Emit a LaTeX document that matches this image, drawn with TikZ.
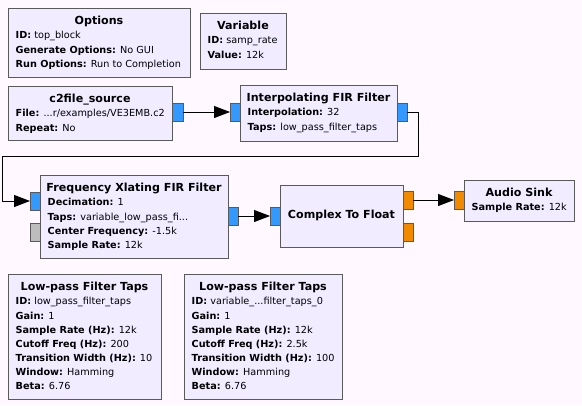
\documentclass[tikz,border=0pt]{standalone}
\usepackage{fontspec}
\setmainfont{DejaVu Sans}
\usetikzlibrary{arrows.meta,fit}
\definecolor{bg}{HTML}{FFF9FF}
\definecolor{blockfill}{HTML}{F1ECFF}
\definecolor{bordercol}{HTML}{5A5A5A}
\definecolor{cplx}{HTML}{3399FF}
\definecolor{flt}{HTML}{F28A00}
\definecolor{msg}{HTML}{BDBDBD}
\newcommand\grcfont{\fontsize{9.7}{12}\selectfont}
\newcommand\grctitlefont{\fontsize{11.1}{13}\selectfont\bfseries}
\newcommand\kv[2]{\textbf{#1} #2}
\newcommand\grcblock[7]{%
  \node[blockbox, fit={(#2,#3) (#4,#5)}] (#1) {};
  \node[blocktitle] (#1-t) at ({(#2+#4)/2},{#3+16.7}) {#6};
  \foreach \txt [count=\i] in {#7} {\node[param] (#1-\i) at ({#2+7.5},{#3+16.7+14.15*\i}) {\txt};}
}
\newcommand\grcport[6]{\node[port, fill=#6, fit={(#2,#3) (#4,#5)}] (#1) {};}
\tikzset{
  blockbox/.style={draw=bordercol, fill=blockfill, line width=1pt, inner sep=0pt, outer sep=0pt},
  port/.style={draw=bordercol, line width=1pt, inner sep=0pt, outer sep=0pt},
  blocktitle/.style={font=\grctitlefont, anchor=base, inner sep=0pt},
  param/.style={font=\grcfont, anchor=base west, inner sep=0pt},
  wire/.style={line width=1pt, -{Triangle[length=16pt,width=12pt]}}
}
\begin{document}
\begin{tikzpicture}[x=1pt,y=-1pt]
\fill[bg] (0,0) rectangle (582,405);
\useasboundingbox (0,0) rectangle (582,405);

\grcblock{opt}{8}{8}{190}{77}{Options}{\kv{ID:}{top\_block},\kv{Generate Options:}{No GUI},\kv{Run Options:}{Run to Completion}}
\grcblock{var}{200}{13}{286}{69}{Variable}{\kv{ID:}{samp\_rate},\kv{Value:}{12k}}
\grcblock{src}{8}{86}{172}{140}{c2file\_source}{\kv{File:}{...r/examples/VE3EMB.c2},\kv{Repeat:}{No}}
\grcblock{interp}{240}{85}{397}{141}{Interpolating FIR Filter}{\kv{Interpolation:}{32},\kv{Taps:}{low\_pass\_filter\_taps}}
\grcblock{xlat}{40}{175}{228}{258}{Frequency Xlating FIR Filter}{\kv{Decimation:}{1},\kv{Taps:}{variable\_low\_pass\_fi...},\kv{Center Frequency:}{-1.5k},\kv{Sample Rate:}{12k}}
\node[blockbox, fit={(280,185) (403,247)}] (c2f) {};
\node[blocktitle] (c2f-t) at (341.5,218.7) {Complex To Float};
\grcblock{sink}{464}{180}{574}{221}{Audio Sink}{\kv{Sample Rate:}{12k}}
\grcblock{lpfa}{8}{274}{161}{399}{Low-pass Filter Taps}{\kv{ID:}{low\_pass\_filter\_taps},\kv{Gain:}{1},\kv{Sample Rate (Hz):}{12k},\kv{Cutoff Freq (Hz):}{200},\kv{Transition Width (Hz):}{10},\kv{Window:}{Hamming},\kv{Beta:}{6.76}}
\grcblock{lpfb}{184}{274}{342}{399}{Low-pass Filter Taps}{\kv{ID:}{variable\_...filter\_taps\_0},\kv{Gain:}{1},\kv{Sample Rate (Hz):}{12k},\kv{Cutoff Freq (Hz):}{2.5k},\kv{Transition Width (Hz):}{100},\kv{Window:}{Hamming},\kv{Beta:}{6.76}}

\grcport{srcout}{172}{103}{183}{121}{cplx}
\grcport{interpin}{230}{103}{240}{121}{cplx}
\grcport{interpout}{397}{103}{407}{121}{cplx}
\grcport{xlatin}{30}{192}{40}{210}{cplx}
\grcport{xlatmsg}{30}{223}{40}{241}{msg}
\grcport{xlatout}{228}{207}{238}{225}{cplx}
\grcport{c2fin}{270}{207}{280}{225}{cplx}
\grcport{c2fouta}{403}{191}{413}{209}{flt}
\grcport{c2foutb}{403}{223}{413}{241}{flt}
\grcport{sinkin}{454}{191}{464}{209}{flt}

\coordinate (bendr) at (418,156);
\coordinate (bendl) at (2,156);
\draw[wire] (srcout.east) -- (interpin.west);
\draw[wire] (interpout.east) -| (bendr) -- (bendl) |- (xlatin.west);
\draw[wire] (xlatout.east) -- (c2fin.west);
\draw[wire] (c2fouta.east) -- (sinkin.west);
\end{tikzpicture}
\end{document}
